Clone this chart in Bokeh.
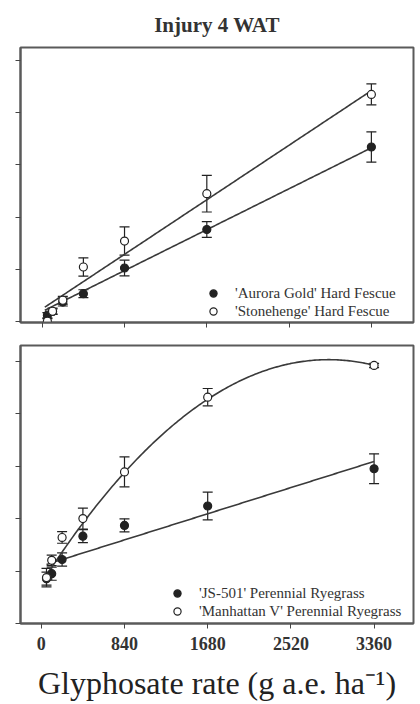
import numpy as np
from bokeh.plotting import figure
from bokeh.layouts import column
from bokeh.models import (ColumnDataSource, Whisker, TeeHead, Legend, LegendItem,
                          FixedTicker, Range1d)
from bokeh.embed import file_html
from bokeh.resources import INLINE

# ---------------- data ----------------
rates = [52.5, 105, 210, 420, 840, 1680, 3360]

aurora = [2.6, 4.0, 7.6, 10.8, 20.6, 35.3, 66.8]
aurora_err = [1.0, 1.0, 1.5, 1.5, 3.0, 3.0, 5.8]
stonehenge = [0.3, 4.1, 8.3, 21.0, 30.9, 49.0, 86.9]
stonehenge_err = [1.0, 1.2, 1.5, 3.5, 5.4, 7.0, 4.0]

js501 = [17.1, 19.0, 24.4, 33.3, 37.4, 44.8, 59.0]
js501_err = [2.5, 2.5, 2.5, 2.5, 2.5, 5.3, 5.7]
manhattan = [17.5, 24.1, 32.8, 40.0, 57.8, 86.3, 98.4]
manhattan_err = [3.5, 2.0, 2.2, 4.0, 5.7, 3.3, 0.8]

# regression coefficients (highest power first, for np.polyval)
aurora_fit = [0.0186, 4.0]
stonehenge_fit = [0.0248, 5.0]
js501_fit = [0.01187, 21.9]
manhattan_fit = [-1.0138e-5, 0.0588, 15.34]

x_ticks = [0, 840, 1680, 2520, 3360]
y_ticks = [0, 20, 40, 60, 80, 100]

title_text = "Injury 4 WAT"
x_label = "Glyphosate rate (g a.e. ha\u207b\u00b9)"
top_names = ["'Aurora Gold' Hard Fescue", "'Stonehenge' Hard Fescue"]
bot_names = ["'JS-501' Perennial Ryegrass", "'Manhattan V' Perennial Ryegrass"]

SERIF = "Liberation Serif"
FRAME = "#5a5a5a"
INK = "#222222"
LINE = "#3a3a3a"


def make_panel(frame_h, border_top, border_bottom, xr, yr, show_xlabels):
    p = figure(frame_width=393, frame_height=frame_h, output_backend="svg",
               toolbar_location=None,
               x_range=Range1d(*xr), y_range=Range1d(*yr),
               min_border_left=20, min_border_right=7,
               min_border_top=border_top, min_border_bottom=border_bottom)
    p.grid.visible = False
    p.background_fill_color = "white"
    p.outline_line_color = FRAME
    p.outline_line_width = 2
    for ax in (p.xaxis[0], p.yaxis[0]):
        ax.axis_line_color = FRAME
        ax.axis_line_width = 2
        ax.major_tick_line_color = "#444444"
        ax.major_tick_line_width = 1
        ax.major_tick_in = 0
        ax.minor_tick_line_color = None
    p.xaxis.ticker = FixedTicker(ticks=x_ticks)
    p.yaxis.ticker = FixedTicker(ticks=y_ticks)
    p.xaxis.major_tick_out = 5
    p.yaxis.major_tick_out = 5
    p.yaxis.major_label_overrides = {t: "" for t in y_ticks}
    p.yaxis.major_label_text_font_size = "0px"
    p.yaxis.major_label_standoff = 0
    if show_xlabels:
        p.xaxis.major_label_text_font = SERIF
        p.xaxis.major_label_text_font_size = "18px"
        p.xaxis.major_label_text_font_style = "bold"
        p.xaxis.major_label_text_color = "#333333"
        p.xaxis.major_label_standoff = 8
    else:
        p.xaxis.major_label_overrides = {t: "" for t in x_ticks}
        p.xaxis.major_label_text_font_size = "0px"
        p.xaxis.major_label_standoff = 0
    return p


def add_series(p, x, y, err, fill):
    src = ColumnDataSource(dict(x=x, y=y,
                                lo=[a - b for a, b in zip(y, err)],
                                hi=[a + b for a, b in zip(y, err)]))
    w = Whisker(source=src, base="x", lower="lo", upper="hi",
                line_color=INK, line_width=1.2,
                upper_head=TeeHead(size=10, line_color=INK, line_width=1.2),
                lower_head=TeeHead(size=10, line_color=INK, line_width=1.2))
    p.add_layout(w)
    r = p.scatter("x", "y", source=src, size=8, marker="circle",
                  fill_color=fill, line_color=INK, line_width=1.2)
    return r


def add_fit(p, coef, x0, x1):
    xs = np.linspace(x0, x1, 200)
    p.line(xs, np.polyval(coef, xs), line_color=LINE, line_width=1.6)


# ---------------- top panel ----------------
top = make_panel(275, 47, 13, (-222, 3790), (-0.2, 104.8), False)
top.title.text = title_text
top.title.align = "center"
top.title.vertical_align = "middle"
top.title.text_font = SERIF
top.title.text_font_size = "21px"
top.title.text_font_style = "bold"
top.title.text_color = "#333333"
top.title.standoff = 20

add_fit(top, aurora_fit, 26, 3360)
add_fit(top, stonehenge_fit, 26, 3360)
r1 = add_series(top, rates, aurora, aurora_err, INK)
r2 = add_series(top, rates, stonehenge, stonehenge_err, "white")

leg1 = Legend(items=[LegendItem(label=top_names[0], renderers=[r1]),
                     LegendItem(label=top_names[1], renderers=[r2])],
              location=(183, 2), padding=0, spacing=0, margin=0,
              glyph_width=20, glyph_height=18, label_height=18,
              label_standoff=12, label_text_font=SERIF,
              label_text_font_size="15px", label_text_color="#333333",
              border_line_color=None, background_fill_alpha=0)
top.add_layout(leg1)

# ---------------- bottom panel ----------------
bot = make_panel(278, 10, 80, (-210, 3758), (0, 106), True)
bot.xaxis.axis_label = x_label
bot.xaxis.axis_label_text_font = SERIF
bot.xaxis.axis_label_text_font_size = "32px"
bot.xaxis.axis_label_text_font_style = "normal"
bot.xaxis.axis_label_text_color = "#222222"
bot.xaxis.axis_label_standoff = 12

add_fit(bot, js501_fit, 52.5, 3360)
add_fit(bot, manhattan_fit, 52.5, 3360)
r3 = add_series(bot, rates, js501, js501_err, INK)
r4 = add_series(bot, rates, manhattan, manhattan_err, "white")

leg2 = Legend(items=[LegendItem(label=bot_names[0], renderers=[r3]),
                     LegendItem(label=bot_names[1], renderers=[r4])],
              location=(147, 3), padding=0, spacing=0, margin=0,
              glyph_width=20, glyph_height=18, label_height=18,
              label_standoff=12, label_text_font=SERIF,
              label_text_font_size="15px", label_text_color="#333333",
              border_line_color=None, background_fill_alpha=0)
bot.add_layout(leg2)

layout = column(top, bot, spacing=0)
open("out.html", "w").write(file_html(layout, INLINE))
